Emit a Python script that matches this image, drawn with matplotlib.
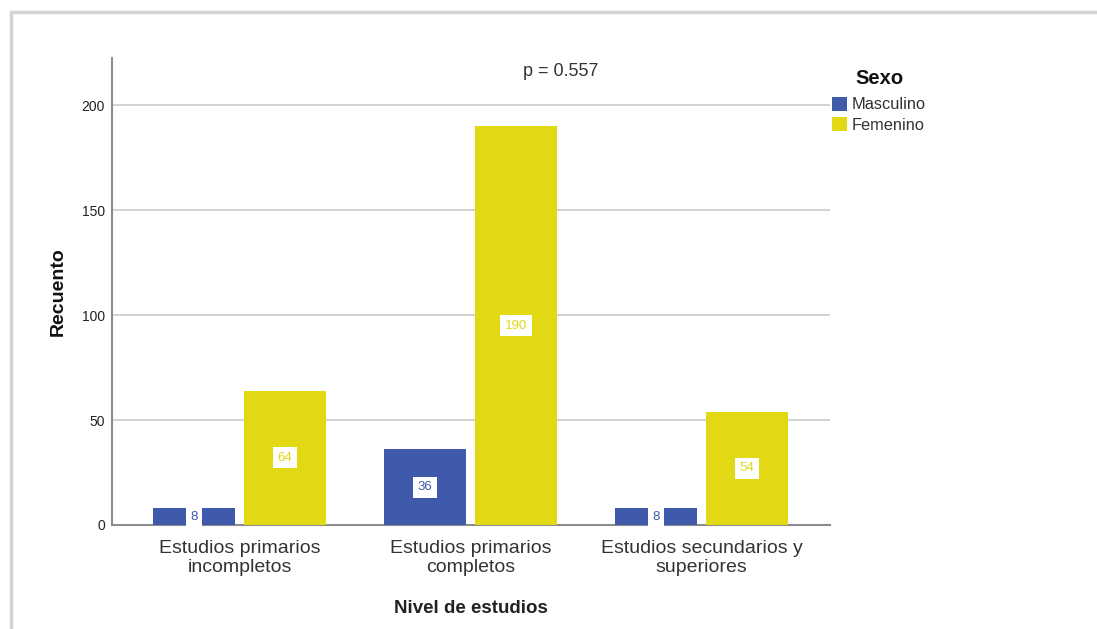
import numpy as np
import matplotlib.pyplot as plt
from matplotlib.patches import Rectangle, Patch

plt.rcParams['font.family'] = ['Liberation Sans', 'DejaVu Sans']

# Recuento por nivel de estudios y sexo
niveles = ['Estudios primarios\nincompletos', 'Estudios primarios\ncompletos',
           'Estudios secundarios y\nsuperiores']
masculino = [8, 36, 8]
femenino = [64, 190, 54]
p_valor = 'p = 0.557'

azul = '#3f59ab'
amarillo = '#e2d813'

fig = plt.figure(figsize=(10.97, 6.29), dpi=100)
fig.patches.append(Rectangle((11 / 1097, -0.05), 1.1, 1 - 12 / 629 + 0.05,
                             transform=fig.transFigure, fill=False,
                             edgecolor='#d4d4d4', linewidth=2.5, zorder=0))

ax = fig.add_axes([112 / 1097, 1 - 525 / 629, 718 / 1097, 467 / 629])
x = np.arange(len(niveles))
w = 0.355
off = 0.197
b1 = ax.bar(x - off, masculino, w, color=azul, zorder=3, label='Masculino')
b2 = ax.bar(x + off, femenino, w, color=amarillo, zorder=3, label='Femenino')

box = dict(boxstyle='square,pad=0.35', facecolor='white', edgecolor='none')
ax.bar_label(b1, label_type='center', color=azul, fontsize=9.5, bbox=box, zorder=4)
ax.bar_label(b2, label_type='center', color=amarillo, fontsize=9.5, bbox=box, zorder=4)

ax.set_xlim(-0.552, 2.556)
ax.set_ylim(0, 222.4)
ax.set_yticks([0, 50, 100, 150, 200])
ax.set_xticks(x)
ax.set_xticklabels(niveles, fontsize=14, color='#333333', linespacing=1.15)
ax.tick_params(axis='y', labelsize=10, colors='#222222', length=0, pad=5)
ax.tick_params(axis='x', length=0, pad=11)
ax.grid(axis='y', color='#cccccc', linewidth=1.2, zorder=0)
for s in ['top', 'right']:
    ax.spines[s].set_visible(False)
for s in ['left', 'bottom']:
    ax.spines[s].set_color('#8c8c8c')
    ax.spines[s].set_linewidth(1.5)

ax.set_ylabel('Recuento', fontsize=14, fontweight='bold', color='#111111', labelpad=11)
ax.set_xlabel('Nivel de estudios', fontsize=13.5, fontweight='bold', color='#222222', labelpad=17)
ax.text(0.625, 1 - 14 / 467, p_valor, transform=ax.transAxes, ha='center', va='center',
        fontsize=13, color='#333333')

fig.text(855 / 1097, 1 - 78 / 629, 'Sexo', fontsize=14.5, fontweight='bold',
         color='#111111', va='center', ha='left')
handles = [Patch(facecolor=azul, label='Masculino'), Patch(facecolor=amarillo, label='Femenino')]
fig.legend(handles=handles, loc='upper left', bbox_to_anchor=(832 / 1097, 1 - 97 / 629),
           frameon=False, fontsize=11.8, handlelength=0.9, handleheight=0.9,
           handletextpad=0.3, labelspacing=0.3, borderpad=0, borderaxespad=0,
           labelcolor='#333333')

plt.savefig('out.png', dpi=100)
